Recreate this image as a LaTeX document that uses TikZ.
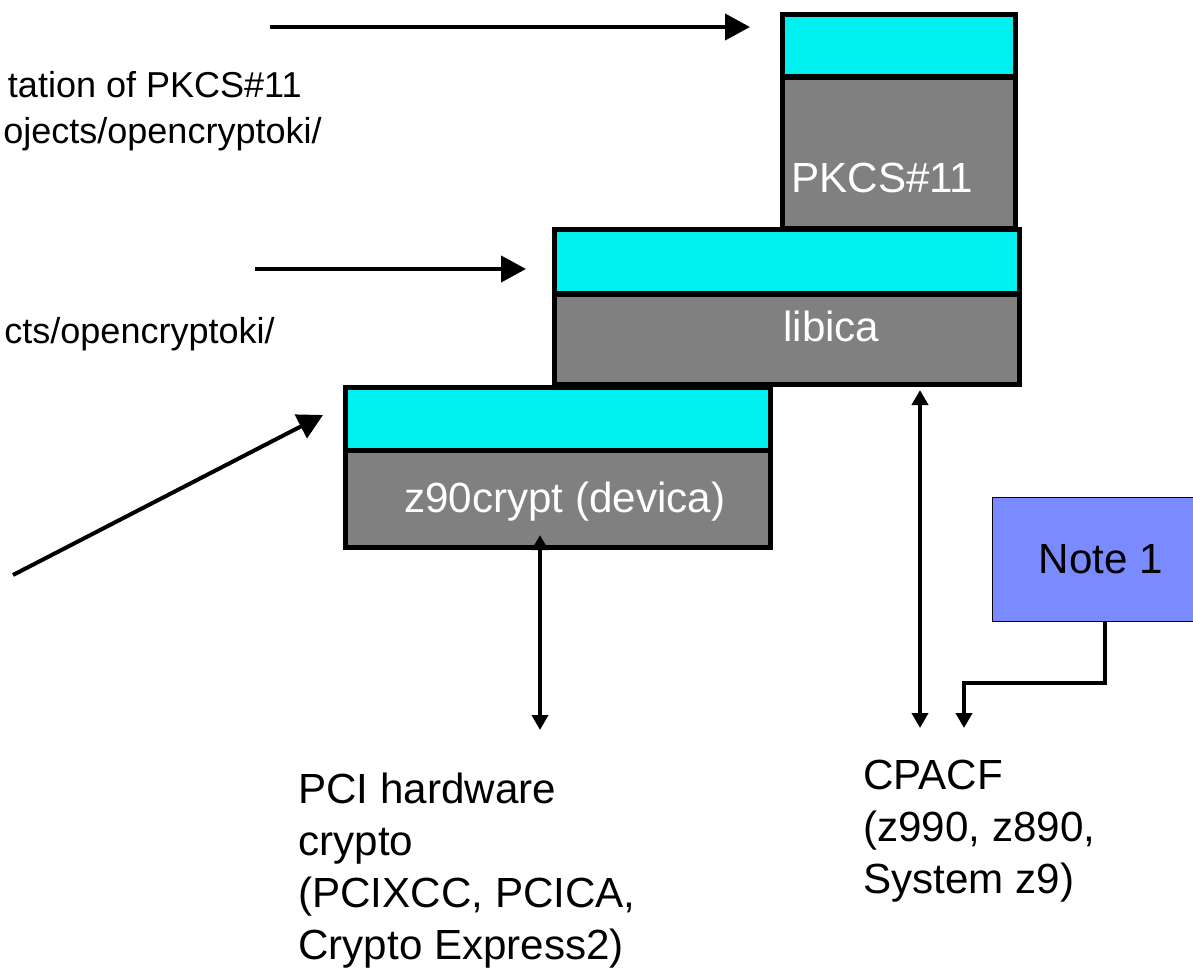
\documentclass[tikz,border=0pt]{standalone}
\usepackage{fontspec}
\setmainfont{Liberation Sans}
\usetikzlibrary{arrows.meta}

\definecolor{lidcyan}{RGB}{0,240,240}
\definecolor{layergray}{RGB}{128,128,128}
\definecolor{notefill}{RGB}{122,138,255}

\begin{document}
\begin{tikzpicture}[x=0.02cm,y=-0.02cm]
  \tikzset{cyanpart/.style = {shape=rectangle,draw,line width=0.1cm,fill=lidcyan,inner sep=0pt}}
  \tikzset{graypart/.style = {shape=rectangle,draw,line width=0.1cm,fill=layergray,inner sep=0pt}}
  \tikzset{boxtext/.style = {text=white,font=\fontsize{24}{29}\selectfont,inner sep=0pt}}
  \tikzset{sidetext/.style = {font=\fontsize{20.5}{25}\selectfont,inner sep=0pt}}
  \tikzset{hwtext/.style = {font=\fontsize{24}{29.6}\selectfont,align=left,inner sep=0pt,anchor=north west}}
  \tikzset{bigedge/.style = {-{Triangle[length=0.5cm,width=0.52cm]},line width=0.08cm}}
  \tikzset{dbledge/.style = {{Triangle[length=0.3cm,width=0.32cm]}-{Triangle[length=0.3cm,width=0.32cm]},line width=0.08cm}}
  \tikzset{noteedge/.style = {-{Triangle[length=0.3cm,width=0.32cm]},line width=0.08cm}}

  \useasboundingbox (0,0) rectangle (1193,970);

	% stacked layers
	\node[cyanpart,minimum width=4.66cm,minimum height=1.25cm] (pkcstop) at (899,45.75) {};
	\node[graypart,minimum width=4.66cm,minimum height=3.04cm] (pkcs) at (899,153) {};
	\node[cyanpart,minimum width=9.3cm,minimum height=1.3cm] (libicatop) at (787,261.5) {};
	\node[graypart,minimum width=9.3cm,minimum height=1.82cm] (libica) at (787,339.5) {};
	\node[cyanpart,minimum width=8.5cm,minimum height=1.26cm] (z90top) at (558,418.5) {};
	\node[graypart,minimum width=8.5cm,minimum height=1.95cm] (z90) at (558,498.75) {};

	\node[boxtext,anchor=base west] (pkcslabel) at (791,192) {PKCS\#11};
	\node[boxtext,anchor=base west] (libicalabel) at (783,341) {libica};
	\node[boxtext,anchor=base west] (z90label) at (404,512) {z90crypt (devica)};

	\node[draw,line width=0.02cm,fill=notefill,minimum width=4.52cm,minimum height=2.5cm,
	      font=\fontsize{24}{29}\selectfont] (note) at (1105,559.5) {Note 1\hspace*{0.16cm}};

	% texts on the left
	\node[sidetext,anchor=base east] (pkcsnote) at (302,97) {tation of PKCS\#11};
	\node[sidetext,anchor=base east] (pkcsurl) at (322,143) {ojects/opencryptoki/};
	\node[sidetext,anchor=base east] (libicaurl) at (275,343) {cts/opencryptoki/};

	\node[hwtext] (pci) at (298,773) {PCI hardware\\crypto\\(PCIXCC, PCICA,\\Crypto Express2)};
	\node[hwtext] (cpacf) at (863,760) {CPACF\\(z990, z890,\\System z9)};

	\coordinate (pkcsfrom) at (270,27);
	\coordinate (pkcsto) at (750,27);
	\coordinate (libicafrom) at (255,269);
	\coordinate (libicato) at (526,269);
	\coordinate (z90from) at (13,575);
	\coordinate (z90to) at (323,415);
	\coordinate (z90port) at (540,535);
	\coordinate (pciport) at (540,730);
	\coordinate (libicaport) at (920,390);
	\coordinate (cpacfport) at (920,728);
	\coordinate (noteport) at (964,728);

       \foreach \from/\to in {pkcsfrom/pkcsto,libicafrom/libicato,z90from/z90to}
    \draw[bigedge] (\from) -- (\to);
       \foreach \from/\to in {z90port/pciport,libicaport/cpacfport}
    \draw[dbledge] (\from) -- (\to);
    \draw[noteedge] (note.south) -- ++(0,61) -| (noteport);
\end{tikzpicture}
\end{document}
